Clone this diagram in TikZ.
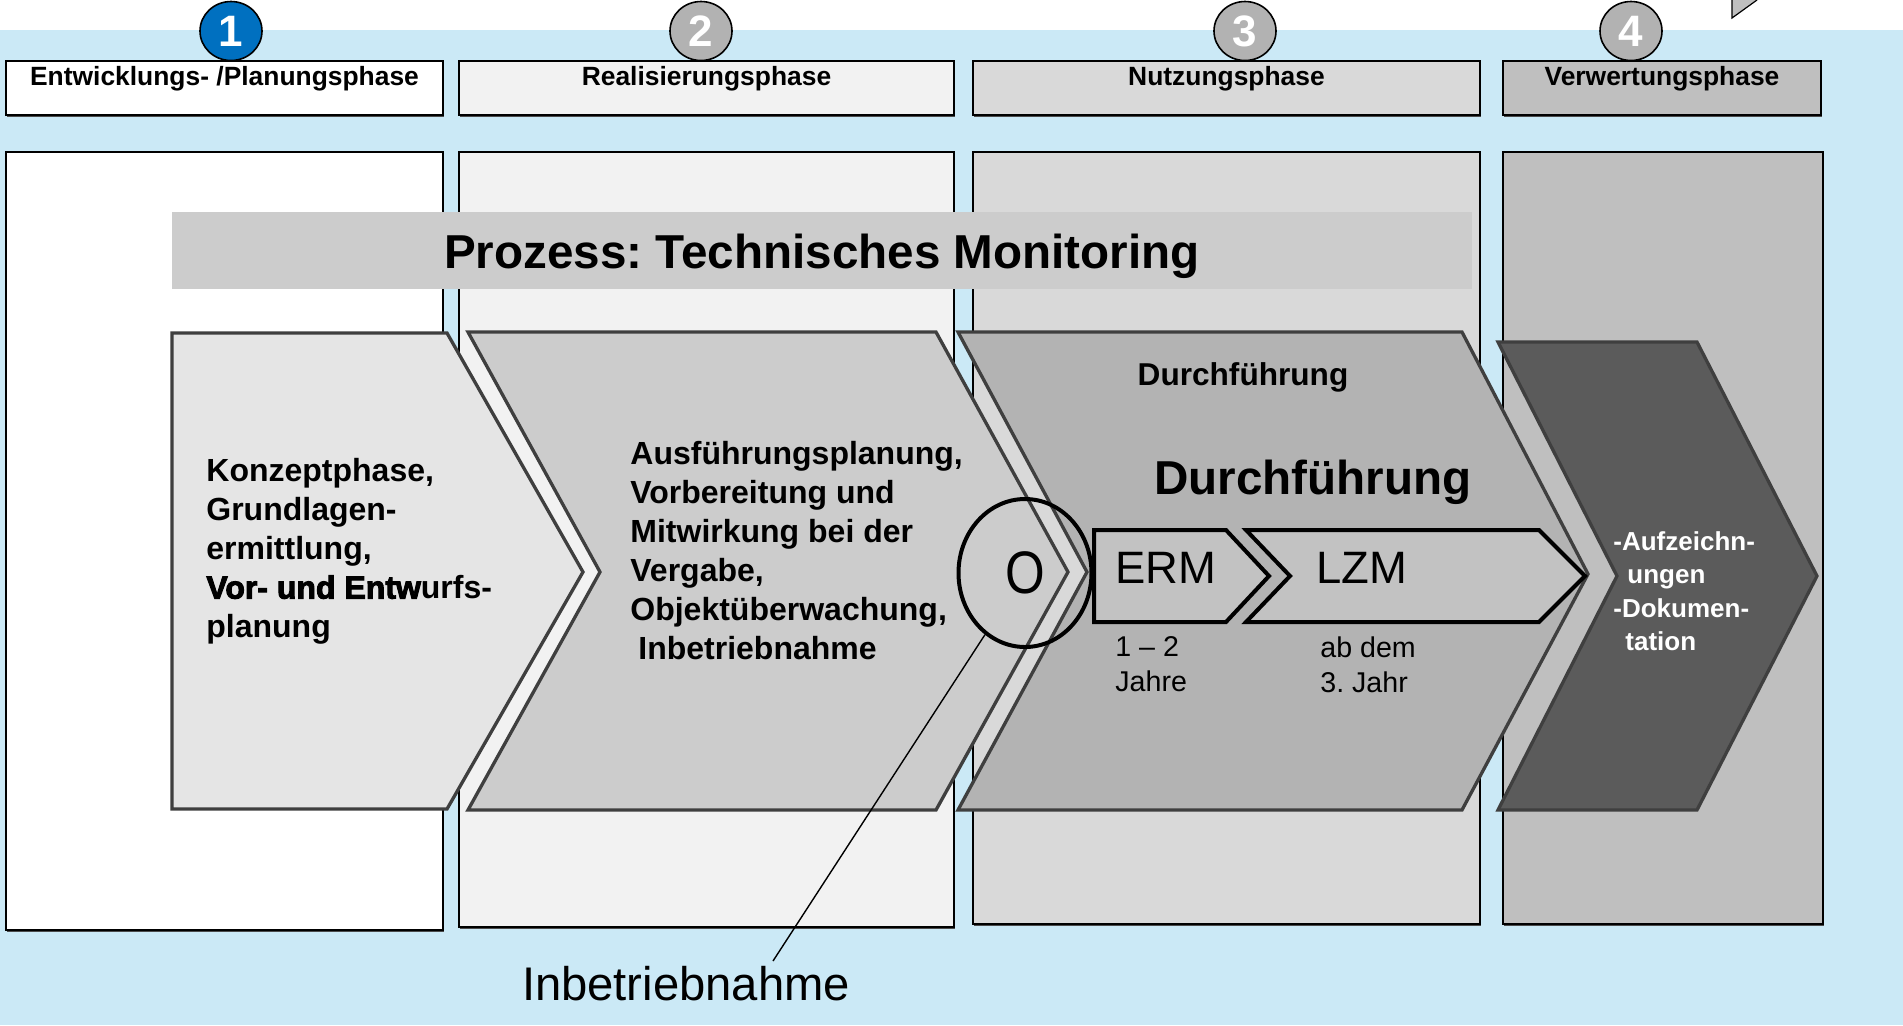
\documentclass[tikz,border=0pt]{standalone}
\usepackage{fontspec}
\setmainfont{Liberation Sans}
\newfontfamily\heavyfont[FakeBold=3]{Liberation Sans Bold}
\usepackage{tikz}
\usetikzlibrary{positioning,shapes.geometric,shadows}
\usepackage{xcolor}
\definecolor{sky}{HTML}{CBE9F6}
\definecolor{phaseB}{HTML}{F2F2F2}
\definecolor{phaseC}{HTML}{D9D9D9}
\definecolor{phaseD}{HTML}{BFBFBF}
\definecolor{band}{HTML}{CCCCCC}
\definecolor{chevA}{HTML}{E5E5E5}
\definecolor{chevB}{HTML}{CCCCCC}
\definecolor{chevC}{HTML}{B3B3B3}
\definecolor{chevD}{HTML}{5B5B5B}
\definecolor{stepfill}{HTML}{C2C2C2}
\definecolor{rim}{HTML}{3F3F3F}
\definecolor{markblue}{HTML}{0070C0}
\definecolor{markgray}{HTML}{B2B2B2}
\newcommand{\fs}[2]{\fontsize{#1}{#2}\selectfont}

\begin{document}
\frenchspacing
\begin{tikzpicture}[x=0.5pt,y=-0.5pt,
    phase/.style={draw=black,line width=0.75pt,
      drop shadow={shadow xshift=0.3pt,shadow yshift=-1.2pt,fill=black!70,opacity=1}},
    chev/.style={draw=rim,line width=1.65pt,line join=miter},
    stage/.style={draw=black,fill=stepfill,line width=2pt,line join=miter},
    num/.style={ellipse,draw=black,line width=0.8pt,minimum width=31pt,minimum height=29.5pt,
      inner sep=0pt,text=white,font=\fs{22}{24}\bfseries},
    head/.style={anchor=base,font=\fs{13.2}{15}\bfseries},
    txt/.style={align=left,anchor=north west,inner sep=0pt}]

  % canvas
  \useasboundingbox (0,0) rectangle (1903,1025);
  \fill[sky] (0,30) rectangle (1903,1025);
  \filldraw[fill=phaseD,draw=black,line width=0.6pt] (1757,0) -- (1732,18) -- (1732,0);

  % phase columns
  \path[phase,fill=white]  (6,152) rectangle (443,930);
  \path[phase,fill=phaseB] (459,152) rectangle (954,927);
  \path[phase,fill=phaseC] (973,152) rectangle (1480,924);
  \path[phase,fill=phaseD] (1503,152) rectangle (1823,924);

  % phase headers
  \path[phase,fill=white]  (6,61) rectangle (443,115);
  \path[phase,fill=phaseB] (459,61) rectangle (954,115);
  \path[phase,fill=phaseC] (973,61) rectangle (1480,115);
  \path[phase,fill=phaseD] (1503,61) rectangle (1821,115);
  \node[head] (h1) at (224.5,85.5) {Entwicklungs- /Planungsphase};
  \node[head] (h2) at (706.5,85.5) {Realisierungsphase};
  \node[head] (h3) at (1226.5,85.5) {Nutzungsphase};
  \node[head] (h4) at (1662,85.5) {Verwertungsphase};

  \node[num,fill=markblue] (n1) at (231,31) {1};
  \node[num,fill=markgray] (n2) at (701,31) {2};
  \node[num,fill=markgray] (n3) at (1245,31) {3};
  \node[num,fill=markgray] (n4) at (1631,31) {4};

  % process band
  \fill[band] (172,212) rectangle (1472,289);
  \node[anchor=base,font=\fs{23.8}{26}\bfseries] (title) at (822,268) {Prozess: Technisches Monitoring};

  % chevrons
  \filldraw[chev,fill=chevA] (172,333) -- (447,333) -- (583,572) -- (447,809) -- (172,809) -- cycle;
  \filldraw[chev,fill=chevB] (468,332) -- (936,332) -- (1068,572) -- (936,810) -- (468,810) -- (600,572) -- cycle;
  \filldraw[chev,fill=chevC] (958,332) -- (1462,332) -- (1588,574) -- (1462,810) -- (958,810) -- (1087,572) -- cycle;
  \filldraw[chev,fill=chevD] (1498,342) -- (1697,342) -- (1817,576) -- (1697,810) -- (1498,810) -- (1617,576) -- cycle;

  \node[txt,font=\fs{16}{19.5}\bfseries] (konzept) at (206,458)
    {Konzeptphase,\\Grundlagen-\\ermittlung,\\{\heavyfont Vor- und Entw}urfs-\\planung};
  \node[txt,font=\fs{16}{19.5}\bfseries] (ausf) at (630,441)
    {Ausführungsplanung,\\Vorbereitung und\\Mitwirkung bei der\\Vergabe,\\Objektüberwachung,\\\hspace{4pt}Inbetriebnahme};
  \node[anchor=base,font=\fs{15.8}{18}\bfseries] (durch) at (1243,385.5) {Durchführung};
  \node[anchor=base,font=\fs{23.8}{26}\bfseries] (durchbig) at (1313,494) {Durchführung};
  \node[txt,text=white,font=\fs{13}{16.7}\bfseries] (doku) at (1613,531)
    {-Aufzeichn-\\\hspace{7pt}ungen\\-Dokumen-\\\hspace{6pt}tation};

  % monitoring steps
  \filldraw[stage] (1094,530) -- (1226,530) -- (1269,576) -- (1226,622) -- (1094,622) -- cycle;
  \filldraw[stage] (1246,530) -- (1539,530) -- (1585,576) -- (1539,622) -- (1246,622) -- (1290,576) -- cycle;
  \node[anchor=base,font=\fs{22.7}{25}] (erm) at (1166,583) {ERM};
  \node[anchor=base,font=\fs{22.7}{25}] (lzm) at (1362,583) {LZM};
  \node[txt,font=\fs{14.3}{17.5}] (ermt) at (1115,636) {1 – 2\\Jahre};
  \node[txt,font=\fs{14.3}{17.5}] (lzmt) at (1320,636) {ab dem\\3. Jahr};

  % commissioning marker
  \node[ellipse,draw=black,line width=2pt,minimum width=66.5pt,minimum height=74pt,
    inner sep=0pt,font=\fs{30}{32}] (ring) at (1025,573) {\scalebox{0.85}[1]{O}};
  \coordinate (tail) at (773,961);
  \draw[line width=0.7pt] (ring) -- (tail);
  \node[anchor=base,font=\fs{23.6}{26}] (ibn) at (686,1000) {Inbetriebnahme};
\end{tikzpicture}
\end{document}
